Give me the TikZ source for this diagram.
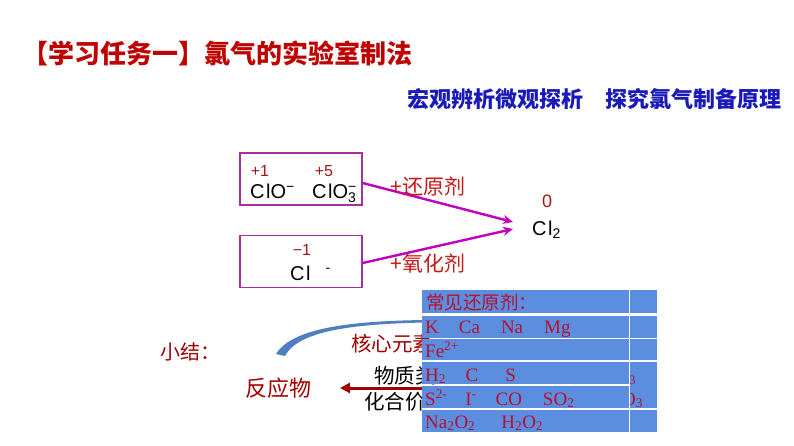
\documentclass[tikz,border=0pt]{standalone}
\usepackage{fontspec}
\setmainfont{Liberation Serif}
\setsansfont{Liberation Sans}
\newfontfamily\cjk{Noto Sans CJK SC}
\usetikzlibrary{arrows.meta, positioning}
\definecolor{titred}{HTML}{C00000}
\definecolor{subblue}{HTML}{1A1AB8}
\definecolor{boxmag}{HTML}{A8309C}
\definecolor{arrmag}{HTML}{C000C0}
\definecolor{valred}{HTML}{A81414}
\definecolor{txtred}{HTML}{C81818}
\definecolor{darkred}{HTML}{A00000}
\definecolor{tblblue}{HTML}{5B8EDE}
\definecolor{tbltxt}{HTML}{B81030}
\definecolor{arcblue}{HTML}{4F7FBF}
\tikzset{
  % titoli
  title/.style={anchor=west, inner sep=0pt, text=titred,
    font=\cjk\bfseries\fontsize{26}{26}\selectfont},
  subttl/.style={anchor=west, inner sep=0pt, text=subblue,
    font=\cjk\bfseries\fontsize{22}{22}\selectfont},
  % riquadro degli ioni
  ionbox/.style={draw=boxmag, line width=1.4pt, minimum width=122pt,
    minimum height=52pt, inner sep=0pt},
  val/.style={inner sep=0pt, text=valred, font=\sffamily\fontsize{16}{16}\selectfont},
  ion/.style={anchor=base west, inner sep=0pt, font=\sffamily\fontsize{20}{20}\selectfont},
  % freccia magenta
  redox/.style={-{Stealth[length=10pt, width=9pt]}, line width=2.4pt, arrmag},
  agent/.style={inner sep=0pt, text=txtred, font=\cjk\fontsize{21}{21}\selectfont},
  % testo del riassunto
  sumtxt/.style={anchor=west, inner sep=0pt, font=\cjk\fontsize{20.5}{20.5}\selectfont},
  % tabella
  tbl/.style={anchor=base west, inner sep=0pt, text=tbltxt, font=\fontsize{19}{19}\selectfont},
}
\newcommand{\cl}{C\kern1.5pt l}
\begin{document}
\begin{tikzpicture}[x=1pt, y=-1pt]
  \useasboundingbox[fill=white] (0,0) rectangle (794,446);
  % titoli
  \node[title] (ttl) at (22,53) {【学习任务一】氯气的实验室制法};
  \node[subttl] (sub) at (407,99) {宏观辨析微观探析　探究氯气制备原理};
  % ioni
  \node[ionbox] (oxbox) at (301,179) {};
  \node[ionbox] (redbox) at (301,261.5) {};
  \node[val] (v1) at (260,171) {+1};
  \node[val] (v5) at (324,171) {+5};
  \node[ion] (clo) at (250,199) {\cl O\textsuperscript{−}};
  \node[ion] (clo3) at (312,199) {\cl O\rlap{\textsuperscript{−}}\textsubscript{3}};
  \node[val] (vm1) at (302,250) {−1};
  \node[ion] (cli) at (290,280) {\cl\hspace{15pt}\textsuperscript{-}};
  \node[val, font=\sffamily\fontsize{18}{18}\selectfont] (v0) at (547,201) {0};
  \node[ion] (cl2) at (532,235) {\cl\textsubscript{2}};
  \coordinate (tipA) at (513,222);
  \coordinate (tipB) at (513,229);
  \draw[redox] ([yshift=-4pt]oxbox.east) -- (tipA);
  \draw[redox] ([yshift=-1.5pt]redbox.east) -- (tipB);
  \node[agent] (rag) at (428,187) {+还原剂};
  \node[agent] (oag) at (428,263) {+氧化剂};
  % riassunto
  \node[sumtxt, text=darkred, font=\cjk\fontsize{20}{20}\selectfont] (summ) at (160,352) {小结：};
  \node[sumtxt, text=darkred, font=\cjk\fontsize{22}{22}\selectfont] (react) at (245,388) {反应物};
  \node[sumtxt, text=darkred] (core) at (351,344) {核心元素};
  \node[sumtxt] (kind) at (374,376) {物质类};
  \node[sumtxt] (vale) at (364,402) {化合价};
  \fill[arcblue] (276,354) .. controls (292,328) and (350,321) .. (425,320)
    -- (425,322.5) .. controls (352,324) and (298,331) .. (285,356) -- cycle;
  \coordinate (arrtail) at (430,388);
  \coordinate (arrtip) at (340,388);
  \draw[-{Triangle[length=10pt, width=10pt]}, line width=3pt, darkred] (arrtail) -- (arrtip);
  % tabella dei riducenti
  \foreach \t/\b in {290/313, 316/337.5, 339/360, 362/384, 386/408, 410/432}
    \fill[tblblue] (422,\t) rectangle (628.5,\b);
  \foreach \t/\b in {290/313, 316/337.5, 339/360, 362/408, 410/432}
    \fill[tblblue] (630,\t) rectangle (657,\b);
  \node[tbl, font=\cjk\fontsize{18.5}{18.5}\selectfont] (r0) at (426,309) {常见还原剂：};
  \node[tbl] (r1) at (425,333) {K\hspace{20pt}Ca\hspace{21pt}Na\hspace{21pt}Mg};
  \node[tbl] (r2) at (425,357) {Fe\textsuperscript{2+}};
  \node[tbl] (r3) at (425,381) {H\textsubscript{2}\hspace{19.5pt}C\hspace{27pt}S};
  \node[tbl] (r4) at (425,405) {S\textsuperscript{2-}\hspace{18pt}I\textsuperscript{-}\hspace{19pt}CO\hspace{21pt}SO\textsubscript{2}};
  \node[tbl] (r5) at (425,428) {Na\textsubscript{2}O\textsubscript{2}\hspace{26pt}H\textsubscript{2}O\textsubscript{2}};
  \begin{scope}
    \clip (630,362) rectangle (657,412);
    \node[tbl, font=\fontsize{13}{13}\selectfont] (sup3) at (629,384) {3};
    \node[tbl] (ozo) at (622,405) {O\textsubscript{3}};
  \end{scope}
\end{tikzpicture}
\end{document}
